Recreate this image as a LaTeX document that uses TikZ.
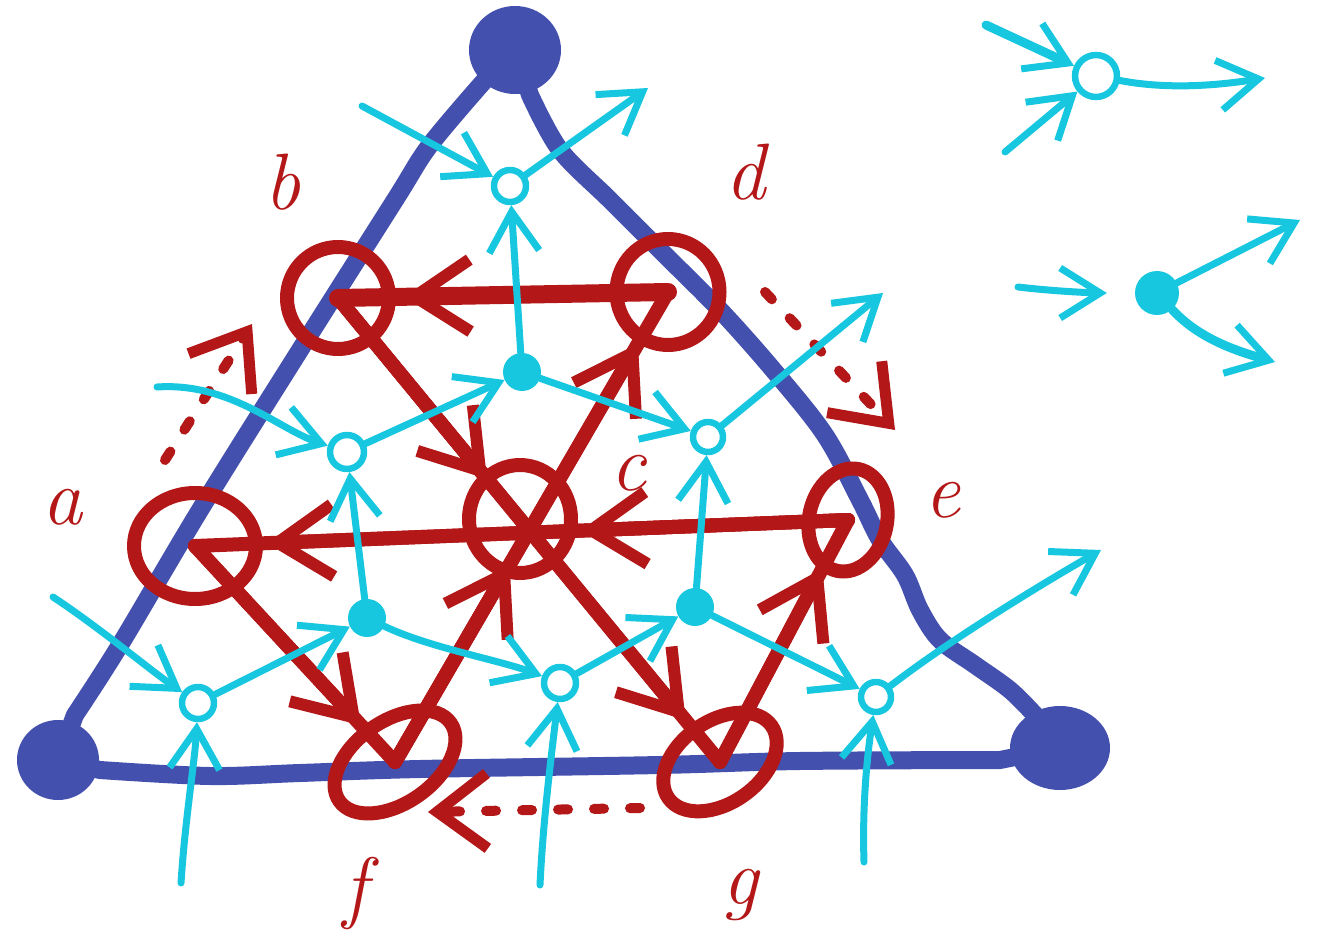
\documentclass[tikz,border=0pt]{standalone}
\usetikzlibrary{arrows.meta,shapes.geometric,calc}
\definecolor{myblue}{HTML}{4450AE}
\definecolor{myred}{HTML}{B31717}
\definecolor{mycyan}{HTML}{17C6DF}
\begin{document}
\begin{tikzpicture}[x=1pt,y=-1pt,line cap=round,line join=round,
  bluedot/.style={ellipse,fill=myblue,inner sep=0pt},
  blueedge/.style={draw=myblue,line width=18pt},
  redring/.style={ellipse,draw=myred,line width=14pt,inner sep=0pt},
  redline/.style={draw=myred,line width=14pt},
  redarr/.style={draw=myred,line width=14pt,-{Straight Barb[length=55pt,width=72pt,line width=12pt]}},
  reddash/.style={draw=myred,line width=10pt,dash pattern=on 10pt off 26pt,-{Straight Barb[length=50pt,width=75pt,line width=11pt]}},
  cyopen/.style={circle,draw=mycyan,line width=6.5pt,inner sep=0pt,minimum size=#1},
  cyfill/.style={circle,fill=mycyan,inner sep=0pt,minimum size=#1},
  cyarr/.style={draw=mycyan,line width=7pt,-{Straight Barb[length=40pt,width=50pt,line width=7pt]}},
  lab/.style={text=myred,font=\fontsize{80}{80}\selectfont\itshape,inner sep=0pt}]
\useasboundingbox (0,0) rectangle (1317,941);

% ---------------- blue triangle ----------------
\node[bluedot,minimum width=92pt,minimum height=88pt] (T) at (515,50) {};
\node[bluedot,minimum width=82pt,minimum height=80pt] (BL) at (58,760) {};
\node[bluedot,minimum width=100pt,minimum height=84pt] (BR) at (1060,748) {};
\draw[blueedge] (T.center) -- plot[smooth,tension=0.55] coordinates {(485,80) (430,145) (395,200) (300,350) (200,510) (120,645) (75,715)} -- (BL.center);
\draw[blueedge] (T.center) -- plot[smooth,tension=0.55] coordinates {(530,95) (560,150) (610,200) (660,250) (720,310) (775,372) (825,435) (860,500) (880,540) (905,575) (920,610) (940,640) (975,665) (1010,690) (1035,715)} -- (BR.center);
\draw[blueedge] (BL.center) -- plot[smooth,tension=0.55] coordinates {(100,770) (210,776) (300,773) (420,769) (660,765) (800,761) (1000,760)} -- (BR.center);

% ---------------- red rings ----------------
\node[redring,minimum width=102pt,minimum height=102pt] (b) at (338,298) {};
\node[redring,minimum width=103pt,minimum height=106pt] (d) at (668,292) {};
\node[redring,minimum width=122pt,minimum height=106pt] (a) at (195,546) {};
\node[redring,minimum width=102pt,minimum height=108pt] (c) at (520,519) {};
\node[redring,minimum width=78pt,minimum height=104pt,rotate=-12] (e) at (848,520) {};
\node[redring,minimum width=136pt,minimum height=82pt,rotate=35] (f) at (395,762) {};
\node[redring,minimum width=126pt,minimum height=82pt,rotate=35] (g) at (720,762) {};

% ---------------- red arrows ----------------
\draw[redline,line width=18pt] (d.center) -- (b.center);
\draw[redarr] (d.center) -- ($(d.center)!0.8!(b.center)$);
\draw[redline] (e.center) -- (a.center);
\draw[redarr] (e.center) -- ($(e.center)!0.41!(a.center)$);
\draw[redarr] (e.center) -- ($(e.center)!0.89!(a.center)$);
\draw[redline] (f.center) -- (d.center);
\draw[redarr] (f.center) -- ($(f.center)!0.42!(d.center)$);
\draw[redarr] (f.center) -- ($(f.center)!0.89!(d.center)$);
\draw[redline] (b.center) -- (g.center);
\draw[redarr] (b.center) -- ($(b.center)!0.39!(g.center)$);
\draw[redarr] (b.center) -- ($(b.center)!0.91!(g.center)$);
\draw[redline] (a.center) -- (f.center);
\draw[redarr] (a.center) -- ($(a.center)!0.83!(f.center)$);
\draw[redline] (g.center) -- (e.center);
\draw[redarr] (g.center) -- ($(g.center)!0.8!(e.center)$);

% dashed red arrows
\coordinate (ab1) at (165,460);
\coordinate (ab2) at (252,324);
\draw[reddash] (ab1) -- (ab2);
\coordinate (de1) at (765,292);
\coordinate (de2) at (895,430);
\draw[reddash] (de1) -- (de2);
\coordinate (gf1) at (640,808);
\coordinate (gf2) at (428,812);
\draw[reddash] (gf1) -- (gf2);

% ---------------- cyan network ----------------
\node[cyopen=32pt] (C1) at (510,186) {};
\node[cyopen=34pt] (C2) at (347,452) {};
\node[cyopen=30pt] (C3) at (708,437) {};
\node[cyopen=32pt] (C4) at (198,703) {};
\node[cyopen=32pt] (C5) at (560,683) {};
\node[cyopen=30pt] (C6) at (876,697) {};
\node[cyfill=38pt] (F1) at (522,372) {};
\node[cyfill=38pt] (F2) at (367,618) {};
\node[cyfill=38pt] (F3) at (695,607) {};

\coordinate (i1) at (362,106);
\coordinate (o1) at (648,88);
\coordinate (o2) at (883,293);
\coordinate (i2) at (157,387);
\coordinate (o3) at (1101,550);
\coordinate (i3) at (53,597);
\coordinate (i4) at (181,883);
\coordinate (i5) at (540,885);
\coordinate (i6) at (864,862);

\draw[cyarr] (i1) -- (C1);
\draw[cyarr] (C1) -- (o1);
\draw[cyarr] (F1) -- (C1);
\draw[cyarr] (C2) -- (F1);
\draw[cyarr] (F1) -- (C3);
\draw[cyarr] (C3) -- (o2);
\draw[cyarr] (i2) .. controls (230,382) and (280,430) .. (C2);
\draw[cyarr] (F2) -- (C2);
\draw[cyarr] (F3) -- (C3);
\draw[cyarr] (C4) -- (F2);
\draw[cyarr] (F2) .. controls (430,648) and (500,660) .. (C5);
\draw[cyarr] (C5) -- (F3);
\draw[cyarr] (F3) -- (C6);
\draw[cyarr] (C6) .. controls (950,640) and (1040,585) .. (o3);
\draw[cyarr] (i3) .. controls (100,628) and (150,670) .. (C4);
\draw[cyarr] (i4) .. controls (185,820) and (195,760) .. (C4);
\draw[cyarr] (i5) .. controls (543,820) and (552,750) .. (C5);
\draw[cyarr] (i6) .. controls (862,800) and (868,750) .. (C6);

% ---------------- legend ----------------
\node[cyopen=42pt] (L1) at (1096,76) {};
\node[cyfill=44pt] (L2) at (1157,293) {};
\coordinate (j1) at (986,25);
\coordinate (j2) at (1005,152);
\coordinate (j3) at (1265,78);
\coordinate (j4) at (1018,287);
\coordinate (j5) at (1300,220);
\coordinate (j6) at (1275,362);
\draw[cyarr,line width=9pt] (j1) -- (L1);
\draw[cyarr] (j2) -- (L1);
\draw[cyarr] (L1) .. controls (1170,90) and (1220,85) .. (j3);
\draw[cyarr,shorten >=28pt] (j4) .. controls (1060,292) and (1100,293) .. (L2);
\draw[cyarr] (L2) -- (j5);
\draw[cyarr,line width=9pt] (L2) .. controls (1200,340) and (1240,352) .. (j6);

% ---------------- labels ----------------
\node[lab] (lb) at (282,182) {b};
\node[lab] (ld) at (745,172) {d};
\node[lab] (la) at (62,507) {a};
\node[lab] (lc) at (628,473) {c};
\node[lab] (le) at (942,500) {e};
\node[lab] (lf) at (355,893) {f};
\node[lab] (lg) at (740,895) {g};
\end{tikzpicture}
\end{document}
